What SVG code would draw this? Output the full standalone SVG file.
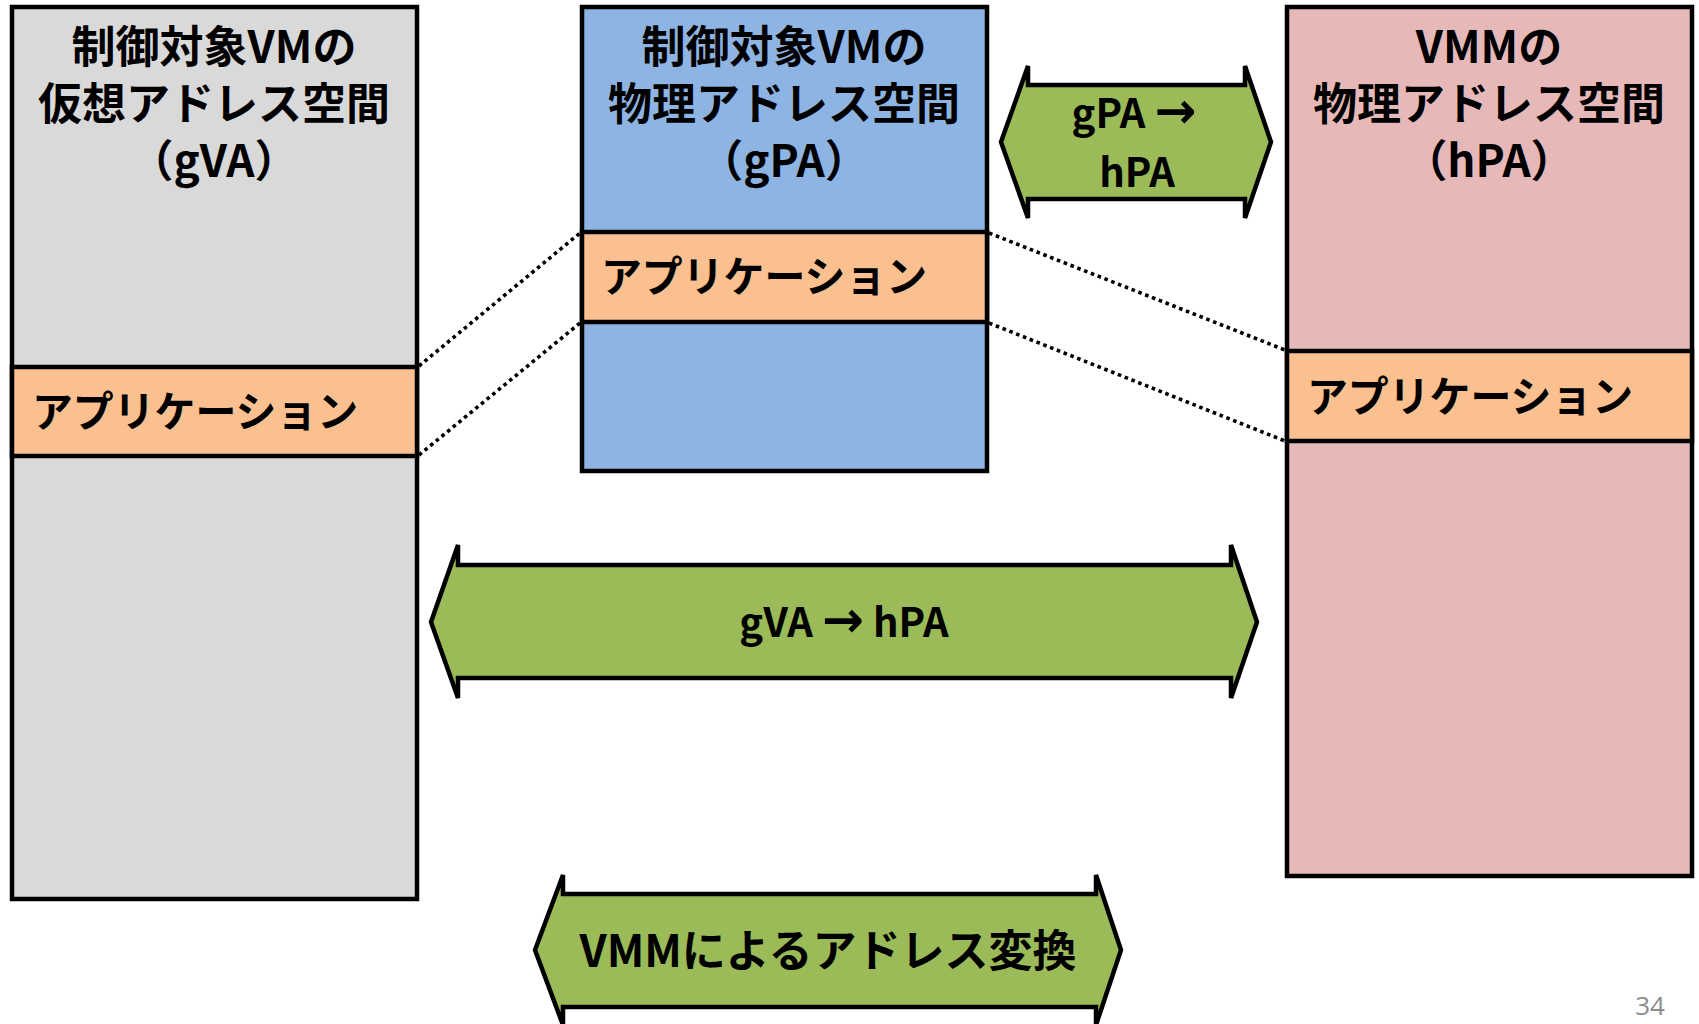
<svg xmlns="http://www.w3.org/2000/svg" width="1699" height="1024" viewBox="0 0 1699 1024">
<style>
.box{stroke:#000;stroke-width:4.5;stroke-linejoin:miter}
.band{fill:#FAC090;stroke:#000;stroke-width:4.5}
.t{font-family:"Noto Sans CJK JP","Noto Sans CJK SC",sans-serif;font-weight:bold;fill:#000}
.title{font-size:44px;text-anchor:middle}
.app{font-size:42px}
.arr{font-family:"DejaVu Sans",sans-serif;font-weight:bold;font-size:50px}
.arrow{fill:#9BBB59;stroke:#000;stroke-width:4.5;stroke-linejoin:miter}
.dot{stroke:#000;stroke-width:3.6;stroke-dasharray:3.6 3.7;fill:none}
</style>
<rect width="1699" height="1024" fill="#fff"/>
<g id="connectors">
<line class="dot" x1="419" y1="366" x2="580" y2="233"/>
<line class="dot" x1="419" y1="455" x2="580" y2="323"/>
<line class="dot" x1="989" y1="233" x2="1285" y2="350"/>
<line class="dot" x1="989" y1="323" x2="1285" y2="441"/>
</g>
<g id="gva">
<rect class="box" x="12" y="7" width="405" height="892" fill="#D9D9D9"/>
<text class="t title" x="214" y="63">制御対象VMの</text>
<text class="t title" x="214" y="120">仮想アドレス空間</text>
<text class="t title" x="214" y="177">（gVA）</text>
</g>
<g id="gva-app">
<rect class="band" x="12" y="367" width="405" height="89"/>
<text class="t app" x="32" y="427" textLength="326" lengthAdjust="spacingAndGlyphs">アプリケーション</text>
</g>
<g id="gpa">
<rect class="box" x="582" y="7" width="405" height="464" fill="#8EB4E3"/>
<text class="t title" x="784" y="63">制御対象VMの</text>
<text class="t title" x="784" y="120">物理アドレス空間</text>
<text class="t title" x="784" y="177">（gPA）</text>
</g>
<g id="gpa-app">
<rect class="band" x="582" y="232" width="405" height="90"/>
<text class="t app" x="601" y="292" textLength="326" lengthAdjust="spacingAndGlyphs">アプリケーション</text>
</g>
<g id="hpa">
<rect class="box" x="1287" y="7" width="405" height="869" fill="#E6B9B8"/>
<text class="t title" x="1489" y="63">VMMの</text>
<text class="t title" x="1489" y="120">物理アドレス空間</text>
<text class="t title" x="1489" y="177">（hPA）</text>
</g>
<g id="hpa-app">
<rect class="band" x="1287" y="351" width="405" height="90"/>
<text class="t app" x="1307" y="412" textLength="326" lengthAdjust="spacingAndGlyphs">アプリケーション</text>
</g>
<g id="arrow-gpa-hpa">
<path class="arrow" d="M1001,142 L1028,66 L1028,85 L1245,85 L1245,66 L1271,142 L1245,218 L1245,199 L1028,199 L1028,218 Z"/>
<text class="t" x="1134" y="128" font-size="40" text-anchor="middle">gPA <tspan class="arr">→</tspan></text>
<text class="t" x="1137" y="187" font-size="40" text-anchor="middle">hPA</text>
</g>
<g id="arrow-gva-hpa">
<path class="arrow" d="M431,622 L458,545 L458,565 L1231,565 L1231,545 L1257,622 L1231,698 L1231,678 L458,678 L458,698 Z"/>
<text class="t" x="844" y="637" font-size="40" text-anchor="middle">gVA <tspan class="arr">→</tspan> hPA</text>
</g>
<g id="arrow-vmm">
<path class="arrow" d="M535,950 L563,875 L563,894 L1096,894 L1096,875 L1121,950 L1096,1025 L1096,1007 L563,1007 L563,1025 Z"/>
<text class="t" x="828" y="967" font-size="44" text-anchor="middle">VMMによるアドレス変換</text>
</g>
<text x="1650" y="1015" font-family="'Open Sans','Noto Sans',sans-serif" font-size="26" fill="#8C8C8C" text-anchor="middle">34</text>
</svg>
